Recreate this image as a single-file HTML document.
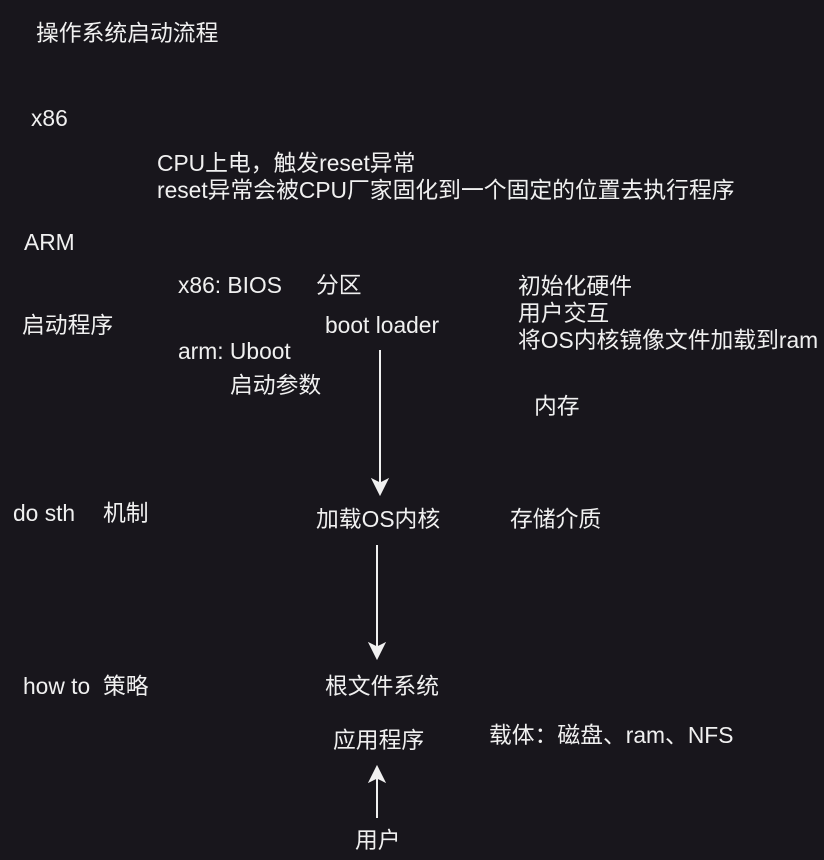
<!DOCTYPE html>
<html><head><meta charset="utf-8"><style>
html,body{margin:0;padding:0;background:#18161c;}
body{width:824px;height:860px;position:relative;overflow:hidden;font-family:"Liberation Sans","Noto Sans CJK SC",sans-serif;color:#f0f0f0;font-size:22.8px;}
.t{position:absolute;white-space:nowrap;line-height:24px;}
svg{position:absolute;left:0;top:0;}
</style></head><body>
<div class="t" style="left:36px;top:21px">操作系统启动流程</div>
<div class="t" style="left:31px;top:106px">x86</div>
<div class="t" style="left:157px;top:151px">CPU上电，触发reset异常</div>
<div class="t" style="left:157px;top:178px">reset异常会被CPU厂家固化到一个固定的位置去执行程序</div>
<div class="t" style="left:24px;top:230px">ARM</div>
<div class="t" style="left:178px;top:273px">x86: BIOS</div>
<div class="t" style="left:316px;top:273px">分区</div>
<div class="t" style="left:518px;top:274px">初始化硬件</div>
<div class="t" style="left:22px;top:313px">启动程序</div>
<div class="t" style="left:325px;top:313px">boot loader</div>
<div class="t" style="left:518px;top:301px">用户交互</div>
<div class="t" style="left:178px;top:339px">arm: Uboot</div>
<div class="t" style="left:518px;top:328px">将OS内核镜像文件加载到ram</div>
<div class="t" style="left:230px;top:373px">启动参数</div>
<div class="t" style="left:534px;top:394px">内存</div>
<div class="t" style="left:13px;top:501px">do sth</div>
<div class="t" style="left:103px;top:501px">机制</div>
<div class="t" style="left:316px;top:507px">加载OS内核</div>
<div class="t" style="left:510px;top:507px">存储介质</div>
<div class="t" style="left:23px;top:674px">how to</div>
<div class="t" style="left:103px;top:674px">策略</div>
<div class="t" style="left:325px;top:674px">根文件系统</div>
<div class="t" style="left:333px;top:728px">应用程序</div>
<div class="t" style="left:489px;top:723px">载体：磁盘、ram、NFS</div>
<div class="t" style="left:355px;top:828px">用户</div>
<svg width="824" height="860">
<g stroke="#f0f0f0" stroke-width="2" fill="#f0f0f0">
<line x1="380" y1="350" x2="380" y2="485"/>
<path d="M372 479 L380 495 L388 479 L380 483 Z" stroke-width="1"/>
<line x1="377" y1="545" x2="377" y2="650"/>
<path d="M369 643 L377 659 L385 643 L377 647 Z" stroke-width="1"/>
<line x1="377" y1="818" x2="377" y2="775"/>
<path d="M369 782 L377 766 L385 782 L377 778 Z" stroke-width="1"/>
</g></svg>
</body></html>
